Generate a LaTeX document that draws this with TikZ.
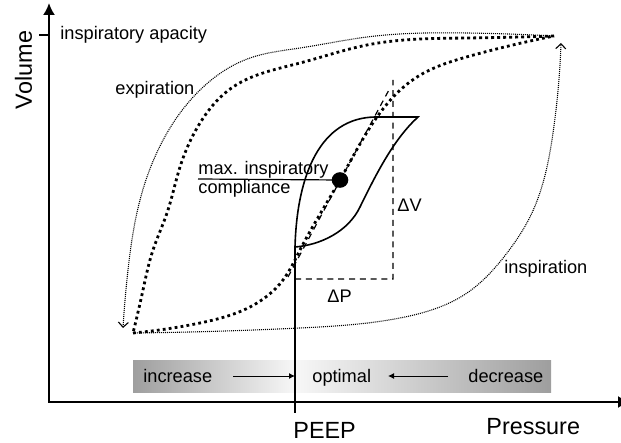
\documentclass[tikz,border=0pt]{standalone}
\usepackage{fontspec}
\setmainfont{Liberation Sans}
\usetikzlibrary{arrows.meta, hobby}

\begin{document}
\begin{tikzpicture}[x=0.5pt, y=-0.5pt,
		txt/.style={font=\fontsize{9.1}{11}\selectfont, inner sep=0pt},
		bigtxt/.style={font=\fontsize{11.7}{14}\selectfont, inner sep=0pt},
		axis/.style={line width=1pt},
		fatdots/.style={line width=1.4pt, dash pattern=on 1.4pt off 1.6pt},
		thindots/.style={line width=0.55pt, dash pattern=on 0.5pt off 0.5pt},
		dashline/.style={line width=0.6pt, dash pattern=on 3pt off 2.4pt},
		loopline/.style={line width=0.8pt},
		barb/.style={-{Straight Barb[length=2.5pt, width=5pt]}},
		head/.style={-{Latex[length=3pt, width=3pt]}}]
					\useasboundingbox (0,0) rectangle (621,443);

					\coordinate (o) at (49,402);
					\coordinate (ytop) at (49,3);
					\coordinate (xend) at (630,402);
					\coordinate (tk) at (39,35);
					\coordinate (bl) at (133,333);
					\coordinate (tr) at (554,36);
					\coordinate (lb) at (295,247);
					\coordinate (lt) at (418,117);
					\coordinate (cm) at (340,180);
					\coordinate (pt) at (295,413);

					\shade[left color=black!38, right color=black!3] (133,360) rectangle (295,392);
					\shade[left color=black!3, right color=black!38] (295,360) rectangle (551,392);

					\draw[axis, {Latex[length=6pt, width=6pt]}-{Latex[length=6pt, width=6pt]}]
						(ytop) -- (o) -- (xend);
					\draw[axis] (tk) -- (tk -| o);

					\draw[thindots, barb, use Hobby shortcut]
						(tr) .. (467,33) .. (367,37) .. (300,48) .. (250,58) .. (200,90)
						.. (167,133) .. (140,200) .. (128,270) .. (123,328);
					\draw[thindots, barb, use Hobby shortcut]
						(bl) .. (300,328) .. (400,318) .. (467,293) .. (507,253)
						.. (530,217) .. (553,133) .. (561,43);

					\draw[fatdots, use Hobby shortcut]
						(tr) .. (467,38) .. (367,45) .. (300,63) .. (233,87) .. (200,123)
						.. (180,167) .. (167,213) .. (153,250) .. (143,290) .. (bl);
					\draw[fatdots, use Hobby shortcut]
						(bl) .. (200,323) .. (250,307) .. (283,280) .. (300,250) .. (cm)
						.. (377,117) .. (417,77) .. (470,56) .. (tr);

					\draw[dashline]
						(288,277) -- (390,88)
						(lb |- 0,279) -- (393,279) -- (393,80);

					\draw[loopline]
						(lb) .. controls (297,175) and (320,118) .. (375,117) -- (lt)
						.. controls (395,138) and (378,170) .. (360,207)
						.. controls (348,232) and (320,245) .. (lb);

					\fill (cm) ellipse [x radius=4.15pt, y radius=3.9pt];
					\draw[line width=0.6pt] (198,179) -- (cm);

					\draw[line width=0.6pt] (lb) -- (pt);

					\node[txt, anchor=base west] (ic) at (60,40) {inspiratory apacity};
					\node[txt, anchor=base west] (ex) at (115,95) {expiration};
					\node[txt, anchor=base west] (mx) at (198,175) {max. inspiratory};
					\node[txt, anchor=base west] (cp) at (198,194) {compliance};
					\node[txt, anchor=base west] (dv) at (397,212) {ΔV};
					\node[txt, anchor=base west] (dp) at (327,303) {ΔP};
					\node[txt, anchor=base west] (ins) at (504,274) {inspiration};

					\node[txt, anchor=base west] (inc) at (143,382) {increase};
					\node[txt, anchor=base west] (opt) at (312,382) {optimal};
					\node[txt, anchor=base west] (dec) at (468,382) {decrease};
					\coordinate (ia) at (233,376);
					\coordinate (ib) at (295,376);
					\coordinate (da) at (448,376);
					\coordinate (db) at (388,376);
					\draw[line width=0.5pt, head] (ia) -- (ib);
					\draw[line width=0.5pt, head] (da) -- (db);

					\node[bigtxt, anchor=base west] (peep) at (293,438) {PEEP};
					\node[bigtxt, anchor=base west] (pr) at (486,434) {Pressure};
					\node[bigtxt, rotate=90, anchor=base] (vol) at (32,70) {Volume};
				\end{tikzpicture}
\end{document}
